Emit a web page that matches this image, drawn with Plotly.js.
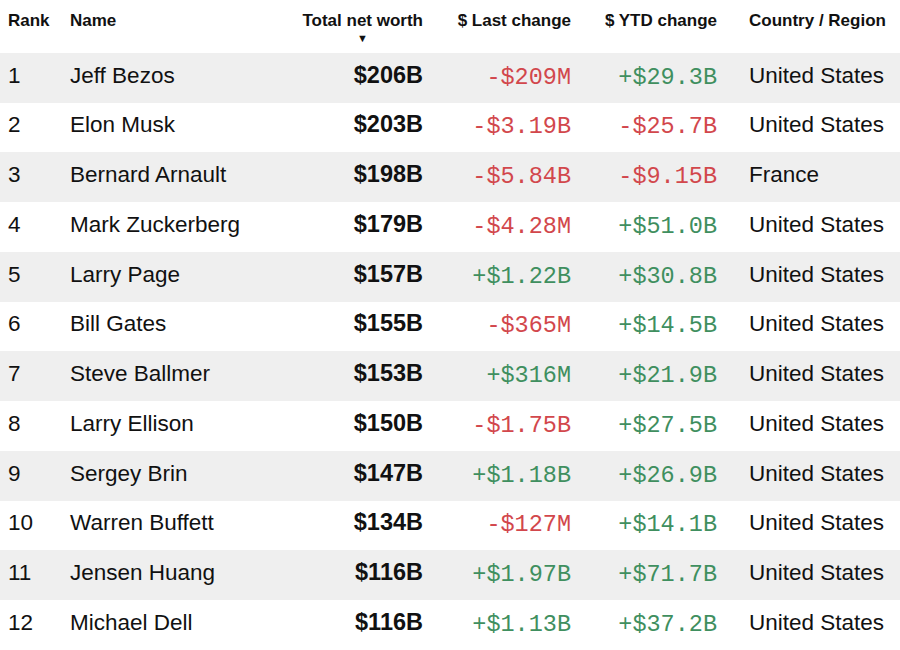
<!DOCTYPE html>
<html>
<head>
<meta charset="utf-8">
<script src="https://cdn.plot.ly/plotly-3.0.1.min.js"></script>
<style>html,body{margin:0;padding:0;background:#fff;}#chart{width:900px;height:650px;}</style>
</head>
<body>
<div id="chart"></div>
<script>
var ranks = [1, 2, 3, 4, 5, 6, 7, 8, 9, 10, 11, 12];
var names = ["Jeff Bezos", "Elon Musk", "Bernard Arnault", "Mark Zuckerberg", "Larry Page", "Bill Gates",
             "Steve Ballmer", "Larry Ellison", "Sergey Brin", "Warren Buffett", "Jensen Huang", "Michael Dell"];
var netWorth = ["$206B", "$203B", "$198B", "$179B", "$157B", "$155B", "$153B", "$150B", "$147B", "$134B", "$116B", "$116B"];
var lastChange = ["-$209M", "-$3.19B", "-$5.84B", "-$4.28M", "+$1.22B", "-$365M", "+$316M", "-$1.75B", "+$1.18B", "-$127M", "+$1.97B", "+$1.13B"];
var ytdChange = ["+$29.3B", "-$25.7B", "-$9.15B", "+$51.0B", "+$30.8B", "+$14.5B", "+$21.9B", "+$27.5B", "+$26.9B", "+$14.1B", "+$71.7B", "+$37.2B"];
var countries = ["United States", "United States", "France", "United States", "United States", "United States",
                 "United States", "United States", "United States", "United States", "United States", "United States"];
var headers = ["Rank", "Name", "Total net worth", "$ Last change", "$ YTD change", "", "Country / Region"];

var RED = "#d2474c", GREEN = "#3f8f5f", INK = "#111111";
var SANS = "Liberation Sans, Arial, sans-serif", MONO = "Liberation Mono, monospace";
var rowFill = ranks.map(function (r, i) { return i % 2 === 0 ? "#efefef" : "#ffffff"; });
function signColor(arr) { return arr.map(function (s) { return s.charAt(0) === "-" ? RED : GREEN; }); }
var inkCol = ranks.map(function () { return INK; });

// cell text: a small blank first line lowers the visible text inside each band
function cell(v, size, bold) {
  var t = "<span style=\"font-size:" + size + "px\">" + v + "</span>";
  return "\u00a0<br>" + (bold ? "<b>" + t + "</b>" : t);
}
function headCell(h, i) {
  if (!h) return "";
  var t = "<b><span style=\"font-size:17px\">" + h + "</span></b><br>";
  if (i === 2) {
    var pad = ""; for (var k = 0; k < 16; k++) pad += "\u00a0";
    t += pad + "<span style=\"font-size:11px\">\u25bc</span>";
  }
  return t;
}

var trace = {
  type: "table",
  domain: {x: [0, 1], y: [0, 1]},
  columnwidth: [62, 200, 169, 148, 146, 16, 159],
  header: {
    values: headers.map(headCell),
    align: ["left", "left", "right", "right", "right", "left", "left"],
    height: 48,
    fill: {color: "#ffffff"},
    line: {width: 0, color: "#ffffff"},
    font: {family: SANS, size: 12.3, color: INK}
  },
  cells: {
    values: [ranks.map(function (r) { return cell(String(r), 22.5); }),
             names.map(function (v) { return cell(v, 22.5); }),
             netWorth.map(function (v) { return cell(v, 23.5, true); }),
             lastChange.map(function (v) { return cell(v, 23.5); }),
             ytdChange.map(function (v) { return cell(v, 23.5); }),
             ranks.map(function () { return ""; }),
             countries.map(function (v) { return cell(v, 22.5); })],
    align: ["left", "left", "right", "right", "right", "left", "left"],
    height: 49.75,
    fill: {color: [rowFill, rowFill, rowFill, rowFill, rowFill, rowFill, rowFill]},
    line: {width: 0, color: rowFill},
    font: {
      family: [SANS, SANS, SANS, MONO, MONO, SANS, SANS],
      size: [9.8, 9.8, 9.8, 10.5, 10.5, 9.8, 9.8],
      color: [inkCol, inkCol, inkCol, signColor(lastChange), signColor(ytdChange), inkCol, inkCol]
    }
  }
};

var layout = {
  width: 900, height: 650,
  margin: {l: 0, r: 0, t: 3, b: 0},
  paper_bgcolor: "#ffffff",
  showlegend: false
};

Plotly.newPlot("chart", [trace], layout, {displayModeBar: false, staticPlot: true});
</script>
</body>
</html>
